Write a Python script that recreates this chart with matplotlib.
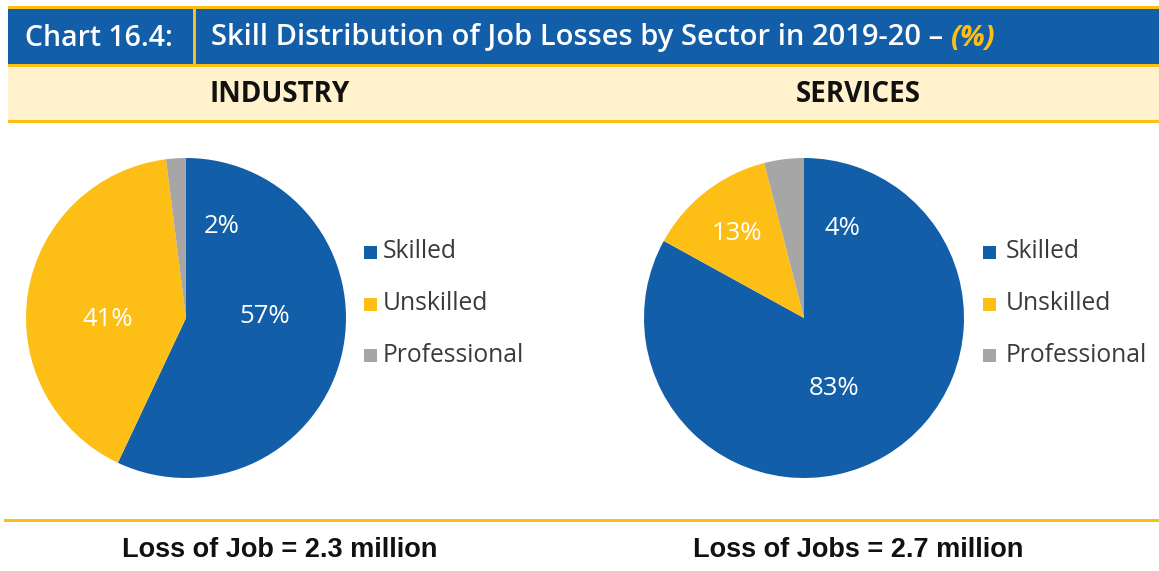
import matplotlib
matplotlib.use("Agg")
import matplotlib.pyplot as plt
from matplotlib.patches import Rectangle

# skill shares of job losses, clockwise from 12 o'clock
skills = ["Skilled", "Unskilled", "Professional"]
industry_share = [57, 41, 2]
services_share = [83, 13, 4]
sectors = ["INDUSTRY", "SERVICES"]
job_losses = ["Loss of Job = 2.3 million", "Loss of Jobs = 2.7 million"]

BLUE = "#125EA8"
YELLOW = "#FDBF16"
GREY = "#A6A6A6"
CREAM = "#FFF2CC"
colors = [BLUE, YELLOW, GREY]

W, H = 1159, 571
fig = plt.figure(figsize=(W / 100, H / 100), dpi=100)
plt.rcParams["font.family"] = ["Open Sans", "DejaVu Sans"]

bg = fig.add_axes([0, 0, 1, 1])
bg.set_xlim(0, W)
bg.set_ylim(H, 0)
bg.axis("off")

# header strip
bg.add_patch(Rectangle((8, 6), W, 2.5, color=YELLOW, lw=0))
bg.add_patch(Rectangle((8, 8.5), W, 55.5, color=BLUE, lw=0))
bg.add_patch(Rectangle((193, 8.5), 2.5, 55.5, color=YELLOW, lw=0))
bg.add_patch(Rectangle((8, 64), W, 3, color=YELLOW, lw=0))
bg.add_patch(Rectangle((8, 67), W, 53, color=CREAM, lw=0))
bg.add_patch(Rectangle((8, 120), W, 3, color=YELLOW, lw=0))
bg.add_patch(Rectangle((4, 519), W, 3, color=YELLOW, lw=0))

bg.text(25, 38, "Chart 16.4:", color="white", fontsize=20.5, fontweight="semibold",
        va="center", ha="left")
t = bg.text(211, 38, "Skill Distribution of Job Losses by Sector in 2019-20 \u2013 ",
            color="white", fontsize=21, fontweight="semibold", va="center", ha="left")
# yellow "(%)" goes right after the title
fig.canvas.draw()
bb = t.get_window_extent()
x_end = bg.transData.inverted().transform((bb.x1, 0))[0]
bg.text(x_end, 38, "(%)", color=YELLOW, fontsize=21, fontweight="bold",
        style="italic", va="center", ha="left")

sector_x = [280, 858]
for name, x in zip(sectors, sector_x):
    bg.text(x, 95, name, fontsize=20, fontweight="bold", color="#111111",
            ha="center", va="center")
for txt, x in zip(job_losses, sector_x):
    bg.text(x, 550, txt, fontsize=19.5, fontweight="bold", color="#111111",
            ha="center", va="center",
            family=["Liberation Sans", "DejaVu Sans"])

# pie layout (pixel centre, radius) and label offsets in pie units
pies = [
    dict(share=industry_share, cx=186, cy=318, r=160,
         label_xy=[(0.49, 0.01), (-0.49, -0.01), (0.225, 0.57)],
         box_x=364, text_x=383),
    dict(share=services_share, cx=804, cy=318, r=160,
         label_xy=[(0.19, -0.44), (-0.42, 0.53), (0.24, 0.56)],
         box_x=983, text_x=1006),
]
legend_y = [252, 304, 355]

for p in pies:
    r = p["r"]
    ax = fig.add_axes([(p["cx"] - r) / W, (H - p["cy"] - r) / H, 2 * r / W, 2 * r / H])
    ax.pie(p["share"], colors=colors, startangle=90, counterclock=False,
           radius=1, wedgeprops=dict(linewidth=0))
    ax.set_xlim(-1, 1)
    ax.set_ylim(-1, 1)
    ax.set_aspect("equal")
    ax.axis("off")
    for v, (lx, ly) in zip(p["share"], p["label_xy"]):
        ax.text(lx, ly, f"{v}%", color="white", fontsize=18.5, ha="center", va="center")

    for name, c, y in zip(skills, colors, legend_y):
        bg.add_patch(Rectangle((p["box_x"], y - 6.5), 13, 13, color=c, lw=0))
        bg.text(p["text_x"], y, name, fontsize=17.7, color="#3a3a3a",
                ha="left", va="center")

fig.savefig("out.png", dpi=100)
